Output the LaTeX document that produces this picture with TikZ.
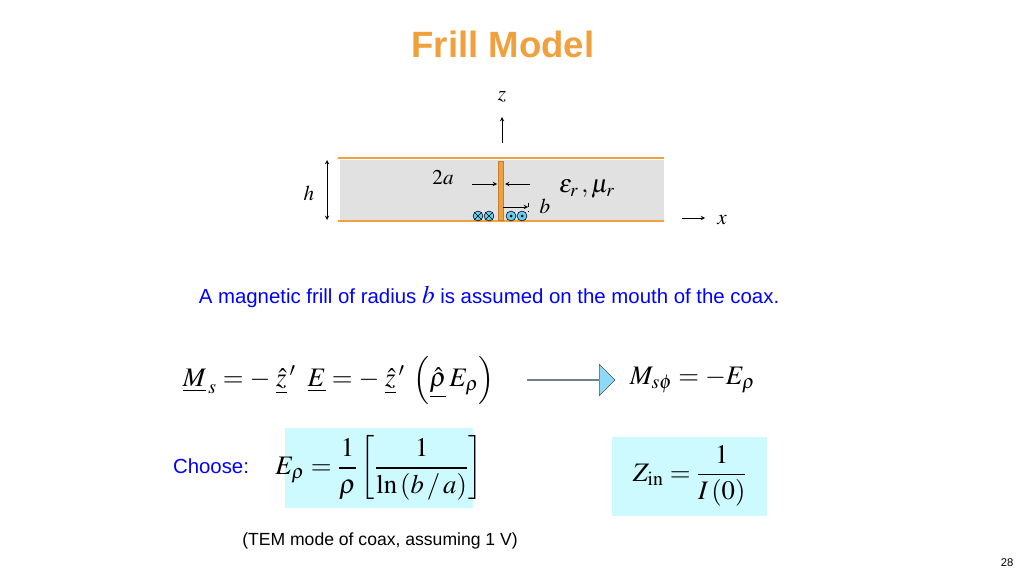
\documentclass[tikz,border=0pt]{standalone}
\usepackage{amsmath}
\usepackage{mathptmx}
\usepackage{fontspec}
\setmainfont{Liberation Sans}
\usetikzlibrary{shapes.arrows}
\definecolor{frill}{RGB}{240,160,60}
\definecolor{slab}{RGB}{225,225,225}
\definecolor{aqua}{RGB}{205,250,255}
\tikzset{
  label/.style = {font=\fontsize{15}{18}\selectfont},
  blue text/.style = {text=blue, font=\fontsize{14.5}{17}\selectfont},
  eq/.style = {font=\fontsize{19}{22}\selectfont},
  pole/.style = {circle, draw=black, fill=cyan!60, inner sep=0pt, minimum size=7pt, line width=0.4pt},
}
\begin{document}
\begin{tikzpicture}[x=0.025cm, y=-0.025cm]
        \useasboundingbox (0,0) rectangle (1024,576);

        \node[text=frill, font=\fontsize{26}{30}\selectfont\bfseries] at (503, 44) (title) {Frill Model};

        % ------------------------------------------------------------------------
        % Slab
        \fill[slab] (340,160) rectangle (664,220);
        \draw[frill, line width=1.6pt] (338,158) -- (664,158);
        \draw[frill, line width=1.6pt] (338,221) -- (664,221);
        \draw[fill=frill, draw=frill!80!black, line width=0.3pt] (498,161) rectangle (503,220);

        \node[label] at (502, 97) (z) {$z$};
        \coordinate (zfoot) at (502, 143);
        \coordinate (ztip) at (502, 117);
        \draw[->, >=stealth] (zfoot) -- (ztip);

        \coordinate (htop) at (327, 160);
        \coordinate (hbot) at (327, 220);
        \draw[<->, >=stealth] (htop) -- (hbot);
        \node[label] at (309, 193) (h) {$h$};

        \node[label] at (443, 178) (twoa) {$2a$};
        \coordinate (aleft) at (472, 184);
        \coordinate (aright) at (530, 184);
        \draw[->, >=stealth] (aleft) -- (497, 184);
        \draw[->, >=stealth] (aright) -- (505, 184);

        \node[label, font=\fontsize{18}{20}\selectfont] at (587, 189) (mat) {$\varepsilon_r\,,\mu_r$};

        \coordinate (bstart) at (503, 207);
        \coordinate (bend) at (528, 207);
        \draw[->, >=stealth] (bstart) -- (bend);
        \draw[dashed, line width=0.3pt] (528, 203) -- (528, 212);
        \node[label] at (545, 206) (b) {$b$};

        \foreach \px in {478, 489, 511, 522} {
          \node[pole] at (\px, 216) (m\px) {};
        }
        \foreach \px in {478, 489} {
          \draw[line width=0.4pt] (m\px.north east) -- (m\px.south west)
                                  (m\px.north west) -- (m\px.south east);
        }
        \foreach \px in {511, 522} {
          \fill (m\px) circle (1.5);
        }

        \coordinate (xstart) at (682, 218);
        \node[label] at (722, 220) (x) {$x$};
        \draw[->, >=stealth] (xstart) -- (705, 218);

        % ------------------------------------------------------------------------
        % Text and equations
        \node[blue text] at (489, 297) (frilltext) {A magnetic frill of radius {\fontsize{18}{20}\selectfont$b$} is assumed on the mouth of the coax.};

        \node[eq, anchor=west] at (178, 380) (msdef)
          {$\underline{M}_{\,s} = -\;\underline{\hat z}\,'\;\;\underline{E} = -\;\underline{\hat z}\,'\;\left(\underline{\hat\rho}\,E_\rho\right)$};
        \node[single arrow, draw=black!70, fill=cyan!45, minimum height=62, minimum width=22, single arrow head extend=5, single arrow head indent=0, inner sep=0pt] at (571, 380) (impl) {};
        \node[eq, anchor=west] at (625, 380) (msphi) {$M_{s\phi} = -E_\rho$};

        \node[blue text] at (211, 466) (choose) {Choose:};
        \fill[aqua] (285,428) rectangle (473,508);
        \node[eq] at (379, 468) (erho) {$E_\rho = \dfrac{1}{\rho}\left[\dfrac{1}{\mathrm{ln}\left(b\,/\,a\right)}\right]$};

        \fill[aqua] (612,437) rectangle (767,516);
        \node[eq] at (690, 476) (zin) {$Z_{\mathrm{in}} = \dfrac{1}{I\left(0\right)}$};

        \node[font=\fontsize{12.5}{14}\selectfont] at (380, 541) (tem) {(TEM mode of coax, assuming 1 V)};
        \node[font=\fontsize{8}{10}\selectfont] at (1007, 563) (page) {28};
      \end{tikzpicture}
\end{document}
